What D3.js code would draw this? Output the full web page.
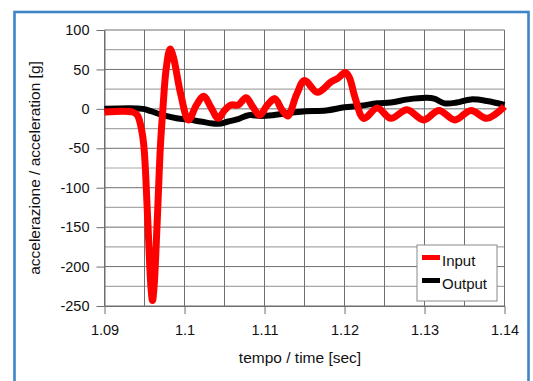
<!DOCTYPE html>
<html>
<head>
<meta charset="utf-8">
<script src="https://cdn.jsdelivr.net/npm/d3@7"></script>
<style>
  body { margin: 0; background: #fff; }
  svg { display: block; }
</style>
</head>
<body>
<script>
// data
const inputTime = [1.0900, 1.0935, 1.0941, 1.0945, 1.0949, 1.0954, 1.0958, 1.0960, 1.0962, 1.0966,
    1.0970, 1.0973, 1.0977, 1.0982, 1.0986, 1.0995, 1.1005, 1.1015, 1.1024, 1.1033,
    1.1042, 1.1050, 1.1058, 1.1067, 1.1077, 1.1085, 1.1094, 1.1103, 1.1113, 1.1121,
    1.1129, 1.1140, 1.1150, 1.1166, 1.1183, 1.1192, 1.1201, 1.1206, 1.1213, 1.1224,
    1.1241, 1.1258, 1.1278, 1.1299, 1.1318, 1.1338, 1.1358, 1.1378, 1.1400];
const inputAccel = [-4, -4, -8, -20, -45, -140, -225, -243, -225, -140,
    -45, 0, 50, 76, 66, 20, -14, 5, 16, 2,
    -12, -2, 5, 5, 14, 3, -8, 4, 13, 0,
    -9, 18, 36, 21, 34, 39, 46, 40, 15, -12,
    1, -12, -1, -14, -2, -14, -2, -12, 3];

const outputTime = [1.0900, 1.0948, 1.0958, 1.0973, 1.0990, 1.1007, 1.1020, 1.1042, 1.1055, 1.1067,
    1.1080, 1.1095, 1.1110, 1.1131, 1.1152, 1.1177, 1.1200, 1.1220, 1.1241, 1.1258,
    1.1279, 1.1303, 1.1312, 1.1325, 1.1340, 1.1358, 1.1378, 1.1400];
const outputAccel = [0, 0, -3, -8, -12, -14, -16, -19, -16, -13,
    -8, -9, -8, -5, -3, -2, 2, 4, 7, 8,
    12, 14, 13, 7, 8, 12, 10, 5];

const xTicks = [1.09, 1.10, 1.11, 1.12, 1.13, 1.14];
const xTickLabels = ["1.09", "1.1", "1.11", "1.12", "1.13", "1.14"];
const xGrid = [1.09, 1.095, 1.10, 1.105, 1.11, 1.115, 1.12, 1.125, 1.13, 1.135, 1.14];
const yTicks = [100, 50, 0, -50, -100, -150, -200, -250];
const yMinorGrid = [75, 25, -25, -75, -125, -175, -225];

const seriesNames = ["Input", "Output"];
const seriesColors = ["#ff0000", "#000000"];

const width = 533;
const height = 381;
const plotLeft = 104.5;
const plotRight = 504.5;
const plotTop = 30;
const plotBottom = 306;

const svg = d3.select("body").append("svg")
    .attr("width", width)
    .attr("height", height);

// blue frame
svg.append("rect")
    .attr("x", 14.5)
    .attr("y", 12)
    .attr("width", 514)
    .attr("height", 400)
    .attr("fill", "none")
    .attr("stroke", "#3d85c6")
    .attr("stroke-width", 2.6);

const xScale = d3.scaleLinear()
    .domain([1.09, 1.14])
    .range([plotLeft, plotRight]);
const yScale = d3.scaleLinear()
    .domain([-250, 100])
    .range([plotBottom, plotTop]);

// grid
const grid = svg.append("g");
grid.selectAll(".hminor")
    .data(yMinorGrid)
    .enter().append("line")
    .attr("x1", plotLeft).attr("x2", plotRight)
    .attr("y1", d => yScale(d)).attr("y2", d => yScale(d))
    .attr("stroke", "#a8a8a8")
    .attr("stroke-width", 1.2);
grid.selectAll(".hmajor")
    .data(yTicks)
    .enter().append("line")
    .attr("x1", plotLeft).attr("x2", plotRight)
    .attr("y1", d => yScale(d)).attr("y2", d => yScale(d))
    .attr("stroke", "#6e6e6e")
    .attr("stroke-width", 1);
grid.selectAll(".v")
    .data(xGrid)
    .enter().append("line")
    .attr("x1", d => xScale(d)).attr("x2", d => xScale(d))
    .attr("y1", plotTop).attr("y2", plotBottom)
    .attr("stroke", "#6e6e6e")
    .attr("stroke-width", 1);

// axes
const xAxis = svg.append("g")
    .attr("transform", "translate(0," + plotBottom + ")")
    .call(d3.axisBottom(xScale)
        .tickValues(xTicks)
        .tickFormat((d, i) => xTickLabels[i])
        .tickSize(8)
        .tickPadding(11)
        .tickSizeOuter(0));
xAxis.select(".domain").attr("stroke", "#6e6e6e");
xAxis.selectAll("line").attr("stroke", "#6e6e6e");
xAxis.selectAll("text")
    .attr("font-size", "14.5px")
    .attr("font-family", "Liberation Sans, Arial, sans-serif")
    .attr("fill", "#111");

const yAxis = svg.append("g")
    .attr("transform", "translate(" + plotLeft + ",0)")
    .call(d3.axisLeft(yScale)
        .tickValues(yTicks)
        .tickFormat(d => String(d))
        .tickSize(8)
        .tickPadding(7)
        .tickSizeOuter(0));
yAxis.select(".domain").attr("stroke", "#6e6e6e");
yAxis.selectAll("line").attr("stroke", "#6e6e6e");
yAxis.selectAll("text")
    .attr("font-size", "14.5px")
    .attr("font-family", "Liberation Sans, Arial, sans-serif")
    .attr("fill", "#111");

// axis titles
svg.append("text")
    .attr("x", 300)
    .attr("y", 363)
    .attr("text-anchor", "middle")
    .attr("font-size", "15.5px")
    .attr("font-family", "Liberation Sans, Arial, sans-serif")
    .attr("fill", "#111")
    .text("tempo / time [sec]");

svg.append("text")
    .attr("transform", "translate(40,168) rotate(-90)")
    .attr("text-anchor", "middle")
    .attr("font-size", "15.5px")
    .attr("font-family", "Liberation Sans, Arial, sans-serif")
    .attr("fill", "#111")
    .text("accelerazione / acceleration [g]");

// lines
const line = d3.line()
    .x(d => xScale(d[0]))
    .y(d => yScale(d[1]))
    .curve(d3.curveCatmullRom.alpha(0.5));

const outputData = outputTime.map((t, i) => [t, outputAccel[i]]);
const inputData = inputTime.map((t, i) => [t, inputAccel[i]]);

svg.append("path")
    .datum(outputData)
    .attr("fill", "none")
    .attr("stroke", seriesColors[1])
    .attr("stroke-width", 6)
    .attr("stroke-linejoin", "round")
    .attr("d", line);

svg.append("path")
    .datum(inputData)
    .attr("fill", "none")
    .attr("stroke", seriesColors[0])
    .attr("stroke-width", 7)
    .attr("stroke-linejoin", "round")
    .attr("d", line);

// legend
const legend = svg.append("g");
legend.append("rect")
    .attr("x", 417)
    .attr("y", 245)
    .attr("width", 80)
    .attr("height", 56)
    .attr("fill", "#fff")
    .attr("stroke", "#8a8a8a")
    .attr("stroke-width", 1);

seriesNames.forEach((name, i) => {
    const cy = 257.5 + i * 23;
    legend.append("line")
        .attr("x1", 422).attr("x2", 440)
        .attr("y1", cy).attr("y2", cy)
        .attr("stroke", seriesColors[i])
        .attr("stroke-width", 5);
    legend.append("text")
        .attr("x", 442)
        .attr("y", cy + 8)
        .attr("font-size", "15px")
        .attr("font-family", "Liberation Sans, Arial, sans-serif")
        .attr("fill", "#111")
        .text(name);
});
</script>
</body>
</html>
